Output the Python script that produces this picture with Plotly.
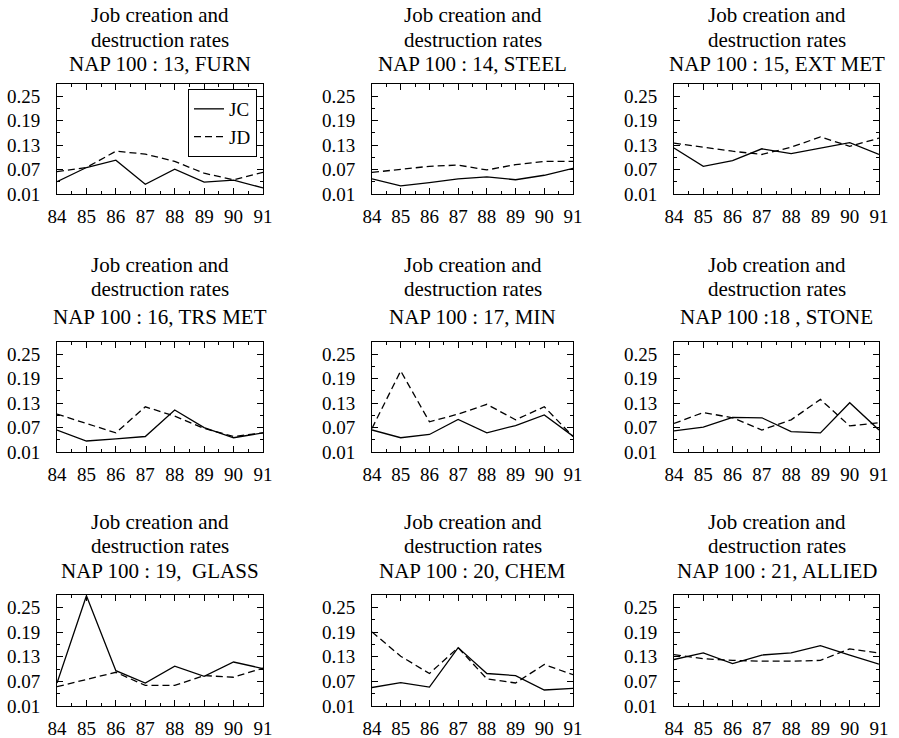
import plotly.graph_objects as go

years = [84, 85, 86, 87, 88, 89, 90, 91]
year_labels = ["84", "85", "86", "87", "88", "89", "90", "91"]
y_ticks = [0.01, 0.07, 0.13, 0.19, 0.25]
y_tick_labels = ["0.01", "0.07", "0.13", "0.19", "0.25"]

title_line1 = "Job creation and"
title_line2 = "destruction rates"
panel_titles = [
    "NAP 100 : 13, FURN", "NAP 100 : 14, STEEL", "NAP 100 : 15, EXT MET",
    "NAP 100 : 16, TRS MET", "NAP 100 : 17, MIN", "NAP 100 :18 , STONE",
    "NAP 100 : 19,\u00a0 GLASS", "NAP 100 : 20, CHEM", "NAP 100 : 21, ALLIED",
]

jc_furn = [0.040, 0.075, 0.093, 0.034, 0.071, 0.039, 0.044, 0.025]
jd_furn = [0.065, 0.075, 0.115, 0.108, 0.090, 0.061, 0.045, 0.063]
jc_steel = [0.047, 0.030, 0.038, 0.047, 0.052, 0.045, 0.056, 0.073]
jd_steel = [0.063, 0.071, 0.078, 0.081, 0.069, 0.082, 0.090, 0.090]
jc_extmet = [0.123, 0.078, 0.092, 0.121, 0.109, 0.123, 0.136, 0.107]
jd_extmet = [0.135, 0.125, 0.115, 0.107, 0.125, 0.150, 0.127, 0.147]
jc_trsmet = [0.064, 0.037, 0.042, 0.048, 0.113, 0.070, 0.045, 0.057]
jd_trsmet = [0.103, 0.080, 0.057, 0.121, 0.098, 0.068, 0.048, 0.057]
jc_min = [0.064, 0.045, 0.053, 0.090, 0.057, 0.075, 0.101, 0.049]
jd_min = [0.068, 0.209, 0.084, 0.103, 0.127, 0.089, 0.121, 0.048]
jc_stone = [0.062, 0.071, 0.095, 0.094, 0.060, 0.057, 0.131, 0.064]
jd_stone = [0.080, 0.107, 0.094, 0.064, 0.089, 0.139, 0.074, 0.082]
jc_glass = [0.066, 0.278, 0.096, 0.066, 0.107, 0.082, 0.117, 0.101]
jd_glass = [0.057, 0.075, 0.092, 0.060, 0.060, 0.084, 0.080, 0.102]
jc_chem = [0.055, 0.067, 0.056, 0.152, 0.089, 0.084, 0.049, 0.053]
jd_chem = [0.190, 0.131, 0.089, 0.152, 0.076, 0.066, 0.111, 0.086]
jc_allied = [0.123, 0.139, 0.113, 0.134, 0.139, 0.157, 0.134, 0.112]
jd_allied = [0.135, 0.125, 0.121, 0.119, 0.119, 0.121, 0.149, 0.139]

jc_all = [jc_furn, jc_steel, jc_extmet, jc_trsmet, jc_min, jc_stone, jc_glass, jc_chem, jc_allied]
jd_all = [jd_furn, jd_steel, jd_extmet, jd_trsmet, jd_min, jd_stone, jd_glass, jd_chem, jd_allied]

W, H = 899, 738


def px_x(p):
    return p / W


def px_y(p):
    return 1 - p / H


col_px = [(57, 263), (372, 573), (674, 879)]
row_px = [(84, 194), (342, 452), (595, 706)]
title_rows_px = [(15, 40, 64), (265, 289, 317), (522, 546, 571)]

FONT = "Liberation Serif"

fig = go.Figure()
annotations = []
layout_axes = {}

for i in range(9):
    r, c = divmod(i, 3)
    n = i + 1
    xa = "x" if n == 1 else f"x{n}"
    ya = "y" if n == 1 else f"y{n}"
    x0, x1 = col_px[c]
    y0, y1 = row_px[r]
    fig.add_trace(go.Scatter(
        x=years, y=jc_all[i], mode="lines", name="JC",
        line=dict(color="black", width=1.3),
        xaxis=xa, yaxis=ya, showlegend=(i == 0)))
    fig.add_trace(go.Scatter(
        x=years, y=jd_all[i], mode="lines", name="JD",
        line=dict(color="black", width=1.3, dash="7px,4px"),
        xaxis=xa, yaxis=ya, showlegend=(i == 0)))
    axis_common = dict(
        showline=True, linecolor="black", linewidth=1, mirror="allticks",
        ticks="inside", tickcolor="black", ticklen=6, tickwidth=1,
        showgrid=False, zeroline=False, automargin=False,
        tickfont=dict(family=FONT, size=19, color="black"),
    )
    layout_axes["xaxis" if n == 1 else f"xaxis{n}"] = dict(
        axis_common, domain=[px_x(x0), px_x(x1)], range=[84, 91],
        tickvals=years, ticktext=year_labels, anchor=ya,
        ticklabelstandoff=5,
        minor=dict(tickvals=[y + 0.5 for y in years[:-1]], ticklen=3,
                   tickcolor="black", ticks="inside"),
    )
    layout_axes["yaxis" if n == 1 else f"yaxis{n}"] = dict(
        axis_common, domain=[px_y(y1), px_y(y0)], range=[0.01, 0.28],
        tickvals=y_ticks, ticktext=y_tick_labels, anchor=xa,
        ticklabelstandoff=12,
        minor=dict(tickvals=[0.04, 0.10, 0.16, 0.22], ticklen=3,
                   tickcolor="black", ticks="inside"),
    )
    xc = px_x((x0 + x1) / 2)
    lines = [title_line1, title_line2, panel_titles[i]]
    for k, ypx in enumerate(title_rows_px[r]):
        annotations.append(dict(
            x=xc, y=px_y(ypx), xref="paper", yref="paper",
            text=lines[k], showarrow=False, xanchor="center", yanchor="middle",
            font=dict(family=FONT, size=21, color="black")))

fig.update_layout(
    template="none",
    width=W, height=H,
    margin=dict(l=0, r=0, t=0, b=0, autoexpand=False),
    paper_bgcolor="white", plot_bgcolor="white",
    font=dict(family=FONT, color="black"),
    annotations=annotations,
    showlegend=True,
    legend=dict(
        x=px_x(257), y=px_y(89), xanchor="right", yanchor="top",
        bordercolor="black", borderwidth=1, bgcolor="white",
        font=dict(family=FONT, size=19, color="black"),
        itemwidth=30, tracegroupgap=0,
        entrywidth=78, entrywidthmode="pixels",
    ),
    **layout_axes,
)

fig.write_html("out.html", config={"displayModeBar": False},
               post_script="document.body.style.margin='0px';")
